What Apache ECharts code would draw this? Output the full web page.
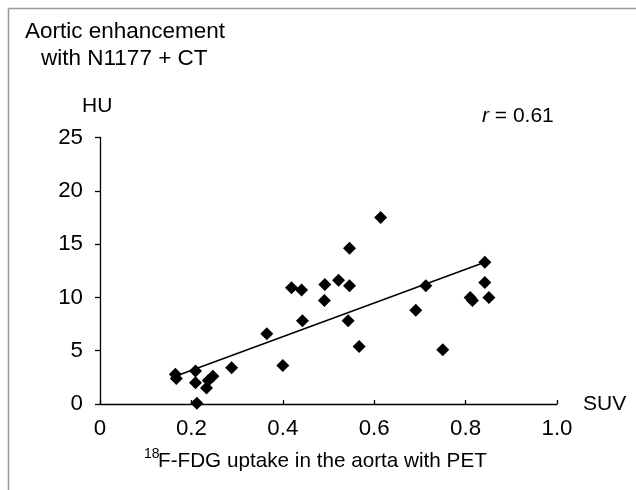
<!DOCTYPE html>
<html>
<head>
<meta charset="utf-8">
<script src="https://cdn.jsdelivr.net/npm/echarts@6/dist/echarts.min.js"></script>
<style>
html,body{margin:0;padding:0;background:#fff;}
#c{width:636px;height:490px;}
</style>
</head>
<body>
<div id="c"></div>
<script>
// SUV (x) and HU (y)
var suv = [0.165, 0.167, 0.209, 0.209, 0.212, 0.233, 0.237, 0.247, 0.288, 0.365, 0.400,
           0.419, 0.441, 0.443, 0.491, 0.492, 0.522, 0.543, 0.546, 0.546, 0.567, 0.614,
           0.691, 0.713, 0.750, 0.810, 0.815, 0.842, 0.842, 0.851];
var hu  = [2.8, 2.4, 3.1, 2.0, 0.06, 1.5, 2.2, 2.6, 3.4, 6.6, 3.6,
           10.9, 10.7, 7.8, 9.7, 11.2, 11.6, 7.8, 14.6, 11.1, 5.4, 17.5,
           8.8, 11.1, 5.1, 10.0, 9.7, 13.3, 11.4, 10.0];
// regression line endpoints
var trendX = [0.165, 0.842];
var trendY = [2.6, 13.3];
var xTicks = ['0', '0.2', '0.4', '0.6', '0.8', '1.0'];
var yTicks = ['0', '5', '10', '15', '20', '25'];

var pts = suv.map(function (v, i) { return [v, hu[i]]; });
var trend = trendX.map(function (v, i) { return [v, trendY[i]]; });
var F = 'Liberation Sans, Arial, sans-serif';

var chart = echarts.init(document.getElementById('c'));
chart.setOption({
  animation: false,
  backgroundColor: '#fff',
  grid: { left: 100, right: 79, top: 137.5, bottom: 86 },
  xAxis: {
    type: 'value', min: 0, max: 1, interval: 0.2,
    name: 'SUV', nameLocation: 'end', nameGap: 26,
    nameTextStyle: { fontFamily: F, fontSize: 21, color: '#000', verticalAlign: 'middle' },
    axisLine: { lineStyle: { color: '#000', width: 1.3 } },
    axisTick: { inside: true, length: 4, lineStyle: { color: '#000', width: 1.3 } },
    splitLine: { show: false },
    axisLabel: { fontFamily: F, fontSize: 22.3, color: '#000', margin: 14,
      formatter: function (v) { return xTicks[Math.round(v / 0.2)]; } }
  },
  yAxis: {
    type: 'value', min: 0, max: 25, interval: 5,
    axisLine: { show: true, lineStyle: { color: '#000', width: 1.3 } },
    axisTick: { show: true, length: 5, lineStyle: { color: '#000', width: 1.3 } },
    splitLine: { show: false },
    axisLabel: { fontFamily: F, fontSize: 22.3, color: '#000', margin: 17,
      formatter: function (v) { return yTicks[Math.round(v / 5)]; } }
  },
  series: [
    { type: 'line', data: trend, symbol: 'none', z: 2,
      lineStyle: { color: '#000', width: 1.5 } },
    { type: 'scatter', data: pts, symbol: 'diamond', symbolSize: 13, z: 3,
      itemStyle: { color: '#000', opacity: 1 } }
  ],
  graphic: [
    { type: 'line', shape: { x1: 8.5, y1: 8.5, x2: 636, y2: 8.5 }, style: { stroke: '#999', lineWidth: 1.5 } },
    { type: 'line', shape: { x1: 8.5, y1: 8.5, x2: 8.5, y2: 490 }, style: { stroke: '#999', lineWidth: 1.5 } },
    { type: 'text', left: 25, top: 20, style: { text: 'Aortic enhancement', font: '22.5px ' + F, fill: '#000' } },
    { type: 'text', left: 41, top: 47, style: { text: 'with N1177 + CT', font: '22.5px ' + F, fill: '#000' } },
    { type: 'text', left: 82, top: 96, style: { text: 'HU', font: '21px ' + F, fill: '#000' } },
    { type: 'text', left: 482, top: 106, style: {
        text: '{i|r} = 0.61', font: '21px ' + F, fill: '#000',
        rich: { i: { fontFamily: F, fontSize: 21, fontStyle: 'italic', fill: '#000' } } } },
    { type: 'text', left: 144, top: 447, style: { text: '18', font: '14px ' + F, fill: '#000' } },
    { type: 'text', left: 158, top: 451, style: { text: 'F-FDG uptake in the aorta with PET', font: '20.7px ' + F, fill: '#000' } }
  ]
});
</script>
</body>
</html>
